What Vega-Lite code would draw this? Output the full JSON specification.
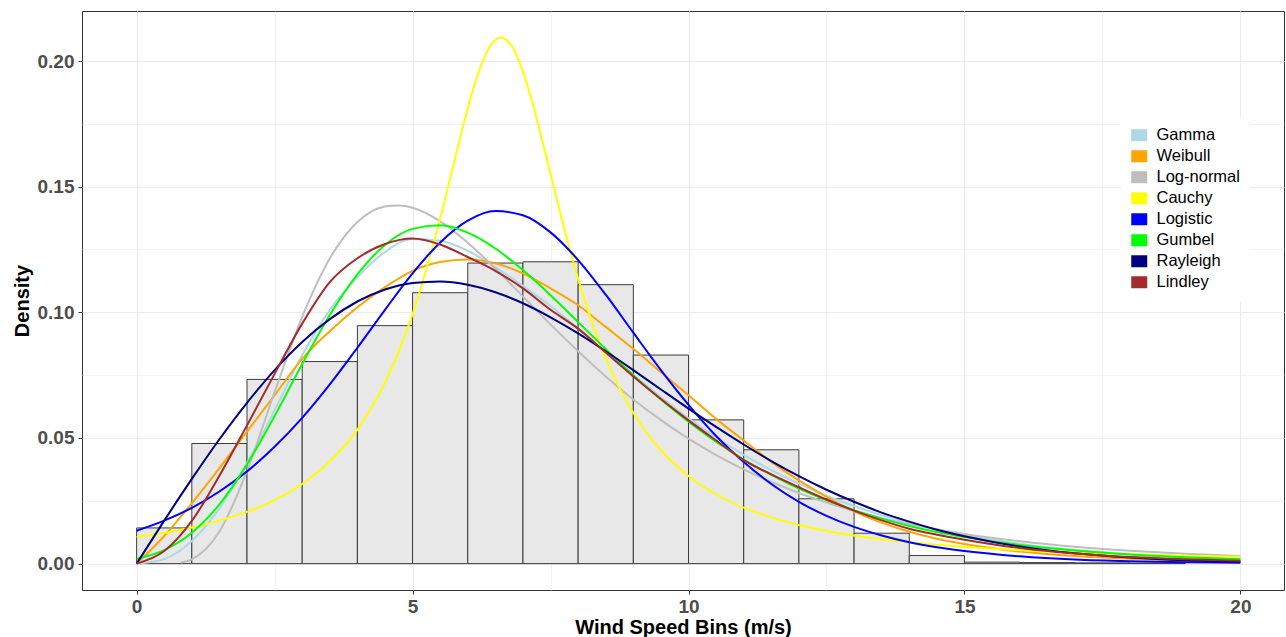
{
"$schema":"https://vega.github.io/schema/vega-lite/v6.json",
"width":1202,"height":579,
"autosize":{"type":"none"},
"padding":{"left":82,"top":11,"right":2,"bottom":47},
"background":"white",
"config":{"font":"Liberation Sans","view":{"stroke":"#333333","strokeWidth":1}},
"datasets":{
"bins":[
{"x":0,"x2":1,"density":0.0142},{"x":1,"x2":2,"density":0.0478},{"x":2,"x2":3,"density":0.0733},{"x":3,"x2":4,"density":0.0804},{"x":4,"x2":5,"density":0.0947},{"x":5,"x2":6,"density":0.1078},{"x":6,"x2":7,"density":0.1196},{"x":7,"x2":8,"density":0.1201},{"x":8,"x2":9,"density":0.111},{"x":9,"x2":10,"density":0.083},{"x":10,"x2":11,"density":0.0572},{"x":11,"x2":12,"density":0.0453},{"x":12,"x2":13,"density":0.0258},{"x":13,"x2":14,"density":0.0121},{"x":14,"x2":15,"density":0.0032},{"x":15,"x2":16,"density":0.0006},{"x":16,"x2":17,"density":0.0004},{"x":17,"x2":18,"density":0.0003},{"x":18,"x2":19,"density":0.0002}
],
"curves":[
{"dist":"Gamma","x":0,"density":0},{"dist":"Gamma","x":0.5,"density":0.0018},{"dist":"Gamma","x":1,"density":0.009},{"dist":"Gamma","x":1.5,"density":0.022},{"dist":"Gamma","x":2,"density":0.04},{"dist":"Gamma","x":2.5,"density":0.061},{"dist":"Gamma","x":3,"density":0.083},{"dist":"Gamma","x":3.5,"density":0.101},{"dist":"Gamma","x":4,"density":0.114},{"dist":"Gamma","x":4.5,"density":0.124},{"dist":"Gamma","x":5,"density":0.1292},{"dist":"Gamma","x":5.5,"density":0.1285},{"dist":"Gamma","x":6,"density":0.1245},{"dist":"Gamma","x":6.5,"density":0.118},{"dist":"Gamma","x":7,"density":0.1105},{"dist":"Gamma","x":7.5,"density":0.1025},{"dist":"Gamma","x":8,"density":0.0935},{"dist":"Gamma","x":8.5,"density":0.084},{"dist":"Gamma","x":9,"density":0.075},{"dist":"Gamma","x":9.5,"density":0.0662},{"dist":"Gamma","x":10,"density":0.0578},{"dist":"Gamma","x":10.5,"density":0.0502},{"dist":"Gamma","x":11,"density":0.0433},{"dist":"Gamma","x":11.5,"density":0.0372},{"dist":"Gamma","x":12,"density":0.0318},{"dist":"Gamma","x":12.5,"density":0.027},{"dist":"Gamma","x":13,"density":0.0229},{"dist":"Gamma","x":13.5,"density":0.0193},{"dist":"Gamma","x":14,"density":0.0162},{"dist":"Gamma","x":14.5,"density":0.0136},{"dist":"Gamma","x":15,"density":0.0114},{"dist":"Gamma","x":16,"density":0.0079},{"dist":"Gamma","x":17,"density":0.0054},{"dist":"Gamma","x":18,"density":0.0037},{"dist":"Gamma","x":19,"density":0.0025},{"dist":"Gamma","x":20,"density":0.0017},
{"dist":"Weibull","x":0,"density":0},{"dist":"Weibull","x":0.5,"density":0.011},{"dist":"Weibull","x":1,"density":0.024},{"dist":"Weibull","x":1.5,"density":0.038},{"dist":"Weibull","x":2,"density":0.0525},{"dist":"Weibull","x":2.5,"density":0.067},{"dist":"Weibull","x":3,"density":0.0815},{"dist":"Weibull","x":3.5,"density":0.0925},{"dist":"Weibull","x":4,"density":0.102},{"dist":"Weibull","x":4.5,"density":0.11},{"dist":"Weibull","x":5,"density":0.1165},{"dist":"Weibull","x":5.5,"density":0.12},{"dist":"Weibull","x":6,"density":0.121},{"dist":"Weibull","x":6.5,"density":0.1195},{"dist":"Weibull","x":7,"density":0.1155},{"dist":"Weibull","x":7.5,"density":0.1095},{"dist":"Weibull","x":8,"density":0.1028},{"dist":"Weibull","x":8.5,"density":0.0942},{"dist":"Weibull","x":9,"density":0.0855},{"dist":"Weibull","x":9.5,"density":0.0762},{"dist":"Weibull","x":10,"density":0.067},{"dist":"Weibull","x":10.5,"density":0.0576},{"dist":"Weibull","x":11,"density":0.049},{"dist":"Weibull","x":11.5,"density":0.0405},{"dist":"Weibull","x":12,"density":0.0331},{"dist":"Weibull","x":12.5,"density":0.0266},{"dist":"Weibull","x":13,"density":0.0208},{"dist":"Weibull","x":13.5,"density":0.0163},{"dist":"Weibull","x":14,"density":0.0127},{"dist":"Weibull","x":14.5,"density":0.0099},{"dist":"Weibull","x":15,"density":0.0078},{"dist":"Weibull","x":16,"density":0.0048},{"dist":"Weibull","x":17,"density":0.003},{"dist":"Weibull","x":18,"density":0.0019},{"dist":"Weibull","x":19,"density":0.0012},{"dist":"Weibull","x":20,"density":0.0008},
{"dist":"Log-normal","x":0.8,"density":0.0004},{"dist":"Log-normal","x":1,"density":0.0017},{"dist":"Log-normal","x":1.5,"density":0.0128},{"dist":"Log-normal","x":2,"density":0.0369},{"dist":"Log-normal","x":2.5,"density":0.0683},{"dist":"Log-normal","x":3,"density":0.0982},{"dist":"Log-normal","x":3.5,"density":0.1214},{"dist":"Log-normal","x":4,"density":0.1359},{"dist":"Log-normal","x":4.5,"density":0.1421},{"dist":"Log-normal","x":4.75,"density":0.1425},{"dist":"Log-normal","x":5,"density":0.1416},{"dist":"Log-normal","x":5.5,"density":0.1362},{"dist":"Log-normal","x":6,"density":0.1277},{"dist":"Log-normal","x":6.5,"density":0.1174},{"dist":"Log-normal","x":7,"density":0.1063},{"dist":"Log-normal","x":7.5,"density":0.0952},{"dist":"Log-normal","x":8,"density":0.0845},{"dist":"Log-normal","x":8.5,"density":0.0745},{"dist":"Log-normal","x":9,"density":0.0653},{"dist":"Log-normal","x":9.5,"density":0.0571},{"dist":"Log-normal","x":10,"density":0.0497},{"dist":"Log-normal","x":10.5,"density":0.0432},{"dist":"Log-normal","x":11,"density":0.0375},{"dist":"Log-normal","x":11.5,"density":0.0325},{"dist":"Log-normal","x":12,"density":0.0281},{"dist":"Log-normal","x":12.5,"density":0.0243},{"dist":"Log-normal","x":13,"density":0.021},{"dist":"Log-normal","x":13.5,"density":0.0182},{"dist":"Log-normal","x":14,"density":0.0158},{"dist":"Log-normal","x":14.5,"density":0.0137},{"dist":"Log-normal","x":15,"density":0.0118},{"dist":"Log-normal","x":16,"density":0.0089},{"dist":"Log-normal","x":17,"density":0.0067},{"dist":"Log-normal","x":18,"density":0.0051},{"dist":"Log-normal","x":19,"density":0.0039},{"dist":"Log-normal","x":20,"density":0.003},
{"dist":"Cauchy","x":0,"density":0.0106},{"dist":"Cauchy","x":0.5,"density":0.0122},{"dist":"Cauchy","x":1,"density":0.0144},{"dist":"Cauchy","x":1.5,"density":0.0171},{"dist":"Cauchy","x":2,"density":0.0206},{"dist":"Cauchy","x":2.5,"density":0.0253},{"dist":"Cauchy","x":3,"density":0.0317},{"dist":"Cauchy","x":3.5,"density":0.0406},{"dist":"Cauchy","x":4,"density":0.0533},{"dist":"Cauchy","x":4.5,"density":0.072},{"dist":"Cauchy","x":5,"density":0.0993},{"dist":"Cauchy","x":5.5,"density":0.1374},{"dist":"Cauchy","x":5.8,"density":0.164},{"dist":"Cauchy","x":6,"density":0.1812},{"dist":"Cauchy","x":6.2,"density":0.1958},{"dist":"Cauchy","x":6.4,"density":0.2058},{"dist":"Cauchy","x":6.6,"density":0.2094},{"dist":"Cauchy","x":6.8,"density":0.2058},{"dist":"Cauchy","x":7,"density":0.1958},{"dist":"Cauchy","x":7.2,"density":0.1812},{"dist":"Cauchy","x":7.4,"density":0.164},{"dist":"Cauchy","x":7.7,"density":0.1374},{"dist":"Cauchy","x":8,"density":0.1133},{"dist":"Cauchy","x":8.5,"density":0.0817},{"dist":"Cauchy","x":9,"density":0.06},{"dist":"Cauchy","x":9.5,"density":0.0451},{"dist":"Cauchy","x":10,"density":0.0349},{"dist":"Cauchy","x":10.5,"density":0.0276},{"dist":"Cauchy","x":11,"density":0.0223},{"dist":"Cauchy","x":11.5,"density":0.0184},{"dist":"Cauchy","x":12,"density":0.0154},{"dist":"Cauchy","x":12.5,"density":0.013},{"dist":"Cauchy","x":13,"density":0.0112},{"dist":"Cauchy","x":13.5,"density":0.0097},{"dist":"Cauchy","x":14,"density":0.0085},{"dist":"Cauchy","x":14.5,"density":0.0075},{"dist":"Cauchy","x":15,"density":0.0066},{"dist":"Cauchy","x":16,"density":0.0053},{"dist":"Cauchy","x":17,"density":0.0044},{"dist":"Cauchy","x":18,"density":0.0037},{"dist":"Cauchy","x":19,"density":0.0031},{"dist":"Cauchy","x":20,"density":0.0027},
{"dist":"Logistic","x":0,"density":0.0131},{"dist":"Logistic","x":0.5,"density":0.0171},{"dist":"Logistic","x":1,"density":0.0222},{"dist":"Logistic","x":1.5,"density":0.0287},{"dist":"Logistic","x":2,"density":0.0367},{"dist":"Logistic","x":2.5,"density":0.0465},{"dist":"Logistic","x":3,"density":0.058},{"dist":"Logistic","x":3.5,"density":0.0713},{"dist":"Logistic","x":4,"density":0.0859},{"dist":"Logistic","x":4.5,"density":0.101},{"dist":"Logistic","x":5,"density":0.1155},{"dist":"Logistic","x":5.5,"density":0.1278},{"dist":"Logistic","x":6,"density":0.1365},{"dist":"Logistic","x":6.5,"density":0.1403},{"dist":"Logistic","x":7,"density":0.1386},{"dist":"Logistic","x":7.5,"density":0.1318},{"dist":"Logistic","x":8,"density":0.1208},{"dist":"Logistic","x":8.5,"density":0.107},{"dist":"Logistic","x":9,"density":0.0919},{"dist":"Logistic","x":9.5,"density":0.077},{"dist":"Logistic","x":10,"density":0.0632},{"dist":"Logistic","x":10.5,"density":0.0508},{"dist":"Logistic","x":11,"density":0.0404},{"dist":"Logistic","x":11.5,"density":0.0317},{"dist":"Logistic","x":12,"density":0.0246},{"dist":"Logistic","x":12.5,"density":0.019},{"dist":"Logistic","x":13,"density":0.0146},{"dist":"Logistic","x":13.5,"density":0.0112},{"dist":"Logistic","x":14,"density":0.0085},{"dist":"Logistic","x":14.5,"density":0.0065},{"dist":"Logistic","x":15,"density":0.005},{"dist":"Logistic","x":16,"density":0.0029},{"dist":"Logistic","x":17,"density":0.0016},{"dist":"Logistic","x":18,"density":0.0009},{"dist":"Logistic","x":19,"density":0.0005},{"dist":"Logistic","x":20,"density":0.0003},
{"dist":"Gumbel","x":0,"density":0.0019},{"dist":"Gumbel","x":0.5,"density":0.0054},{"dist":"Gumbel","x":1,"density":0.0123},{"dist":"Gumbel","x":1.5,"density":0.0236},{"dist":"Gumbel","x":2,"density":0.0395},{"dist":"Gumbel","x":2.5,"density":0.0587},{"dist":"Gumbel","x":3,"density":0.0794},{"dist":"Gumbel","x":3.5,"density":0.0989},{"dist":"Gumbel","x":4,"density":0.1151},{"dist":"Gumbel","x":4.5,"density":0.1268},{"dist":"Gumbel","x":5,"density":0.1332},{"dist":"Gumbel","x":5.5,"density":0.1346},{"dist":"Gumbel","x":6,"density":0.1317},{"dist":"Gumbel","x":6.5,"density":0.1254},{"dist":"Gumbel","x":7,"density":0.1168},{"dist":"Gumbel","x":7.5,"density":0.1068},{"dist":"Gumbel","x":8,"density":0.0961},{"dist":"Gumbel","x":8.5,"density":0.0854},{"dist":"Gumbel","x":9,"density":0.075},{"dist":"Gumbel","x":9.5,"density":0.0653},{"dist":"Gumbel","x":10,"density":0.0565},{"dist":"Gumbel","x":10.5,"density":0.0485},{"dist":"Gumbel","x":11,"density":0.0414},{"dist":"Gumbel","x":11.5,"density":0.0353},{"dist":"Gumbel","x":12,"density":0.0299},{"dist":"Gumbel","x":12.5,"density":0.0253},{"dist":"Gumbel","x":13,"density":0.0213},{"dist":"Gumbel","x":13.5,"density":0.0179},{"dist":"Gumbel","x":14,"density":0.015},{"dist":"Gumbel","x":14.5,"density":0.0126},{"dist":"Gumbel","x":15,"density":0.0106},{"dist":"Gumbel","x":16,"density":0.0074},{"dist":"Gumbel","x":17,"density":0.0052},{"dist":"Gumbel","x":18,"density":0.0036},{"dist":"Gumbel","x":19,"density":0.0025},{"dist":"Gumbel","x":20,"density":0.0017},
{"dist":"Rayleigh","x":0,"density":0},{"dist":"Rayleigh","x":0.5,"density":0.0171},{"dist":"Rayleigh","x":1,"density":0.0337},{"dist":"Rayleigh","x":1.5,"density":0.0495},{"dist":"Rayleigh","x":2,"density":0.064},{"dist":"Rayleigh","x":2.5,"density":0.077},{"dist":"Rayleigh","x":3,"density":0.0882},{"dist":"Rayleigh","x":3.5,"density":0.0973},{"dist":"Rayleigh","x":4,"density":0.1043},{"dist":"Rayleigh","x":4.5,"density":0.1091},{"dist":"Rayleigh","x":5,"density":0.1117},{"dist":"Rayleigh","x":5.5,"density":0.1123},{"dist":"Rayleigh","x":6,"density":0.111},{"dist":"Rayleigh","x":6.5,"density":0.108},{"dist":"Rayleigh","x":7,"density":0.1036},{"dist":"Rayleigh","x":7.5,"density":0.098},{"dist":"Rayleigh","x":8,"density":0.0916},{"dist":"Rayleigh","x":8.5,"density":0.0845},{"dist":"Rayleigh","x":9,"density":0.077},{"dist":"Rayleigh","x":9.5,"density":0.0693},{"dist":"Rayleigh","x":10,"density":0.0617},{"dist":"Rayleigh","x":10.5,"density":0.0544},{"dist":"Rayleigh","x":11,"density":0.0474},{"dist":"Rayleigh","x":11.5,"density":0.0408},{"dist":"Rayleigh","x":12,"density":0.0348},{"dist":"Rayleigh","x":12.5,"density":0.0294},{"dist":"Rayleigh","x":13,"density":0.0246},{"dist":"Rayleigh","x":13.5,"density":0.0203},{"dist":"Rayleigh","x":14,"density":0.0167},{"dist":"Rayleigh","x":14.5,"density":0.0135},{"dist":"Rayleigh","x":15,"density":0.0109},{"dist":"Rayleigh","x":16,"density":0.0068},{"dist":"Rayleigh","x":17,"density":0.0041},{"dist":"Rayleigh","x":18,"density":0.0024},{"dist":"Rayleigh","x":19,"density":0.0013},{"dist":"Rayleigh","x":20,"density":0.0007},
{"dist":"Lindley","x":0,"density":0},{"dist":"Lindley","x":0.5,"density":0.005},{"dist":"Lindley","x":1,"density":0.017},{"dist":"Lindley","x":1.5,"density":0.035},{"dist":"Lindley","x":2,"density":0.055},{"dist":"Lindley","x":2.5,"density":0.0755},{"dist":"Lindley","x":3,"density":0.0955},{"dist":"Lindley","x":3.5,"density":0.112},{"dist":"Lindley","x":4,"density":0.1215},{"dist":"Lindley","x":4.5,"density":0.1272},{"dist":"Lindley","x":5,"density":0.1294},{"dist":"Lindley","x":5.5,"density":0.127},{"dist":"Lindley","x":6,"density":0.122},{"dist":"Lindley","x":6.5,"density":0.1165},{"dist":"Lindley","x":7,"density":0.1095},{"dist":"Lindley","x":7.5,"density":0.101},{"dist":"Lindley","x":8,"density":0.0935},{"dist":"Lindley","x":8.5,"density":0.084},{"dist":"Lindley","x":9,"density":0.0745},{"dist":"Lindley","x":9.5,"density":0.0655},{"dist":"Lindley","x":10,"density":0.057},{"dist":"Lindley","x":10.5,"density":0.049},{"dist":"Lindley","x":11,"density":0.0412},{"dist":"Lindley","x":11.5,"density":0.0355},{"dist":"Lindley","x":12,"density":0.0304},{"dist":"Lindley","x":12.5,"density":0.0255},{"dist":"Lindley","x":13,"density":0.0211},{"dist":"Lindley","x":13.5,"density":0.0172},{"dist":"Lindley","x":14,"density":0.0139},{"dist":"Lindley","x":14.5,"density":0.0115},{"dist":"Lindley","x":15,"density":0.0095},{"dist":"Lindley","x":16,"density":0.0062},{"dist":"Lindley","x":17,"density":0.004},{"dist":"Lindley","x":18,"density":0.0026},{"dist":"Lindley","x":19,"density":0.0017},{"dist":"Lindley","x":20,"density":0.0011}
]
},
"layer":[
{"data":{"name":"bins"},
 "mark":{"type":"rect","fill":"#E8E8E8","stroke":"#3C3C3C","strokeWidth":1},
 "encoding":{
  "x":{"field":"x","type":"quantitative","scale":{"domain":[-0.99,20.79],"nice":false,"zero":false},
   "axis":{"title":"Wind Speed Bins (m/s)","values":[0,2.5,5,7.5,10,12.5,15,17.5,20],"format":"~g",
    "labelExpr":"datum.value % 5 == 0 ? datum.label : ''",
    "domain":false,"tickSize":4,"tickWidth":1,
    "tickColor":{"condition":{"test":"datum.value % 5 != 0","value":"transparent"},"value":"#333333"},
    "grid":true,"gridColor":"#EBEBEB",
    "gridWidth":{"condition":{"test":"datum.value % 5 != 0","value":0.6},"value":1.1},
    "labelFont":"Liberation Sans","labelFontSize":19,"labelFontWeight":"bold","labelColor":"#4D4D4D","labelPadding":3,
    "titleFont":"Liberation Sans","titleFontSize":20,"titleFontWeight":"bold","titleColor":"#000000","titlePadding":1}},
  "x2":{"field":"x2"},
  "y":{"field":"density","type":"quantitative","scale":{"domain":[-0.0105,0.2199],"nice":false,"zero":false},
   "axis":{"title":"Density","values":[0,0.025,0.05,0.075,0.1,0.125,0.15,0.175,0.2],"format":".2f",
    "labelExpr":"round(datum.value*1000) % 50 == 0 ? datum.label : ''",
    "domain":false,"tickSize":4,"tickWidth":1,
    "tickColor":{"condition":{"test":"round(datum.value*1000) % 50 != 0","value":"transparent"},"value":"#333333"},
    "grid":true,"gridColor":"#EBEBEB",
    "gridWidth":{"condition":{"test":"round(datum.value*1000) % 50 != 0","value":0.6},"value":1.1},
    "labelFont":"Liberation Sans","labelFontSize":19,"labelFontWeight":"bold","labelColor":"#4D4D4D","labelPadding":4,
    "titleFont":"Liberation Sans","titleFontSize":20,"titleFontWeight":"bold","titleColor":"#000000","titlePadding":5}},
  "y2":{"datum":0}
 }},
{"data":{"name":"curves"},
 "mark":{"type":"line","strokeWidth":2,"interpolate":"monotone"},
 "encoding":{
  "x":{"field":"x","type":"quantitative"},
  "y":{"field":"density","type":"quantitative"},
  "color":{"field":"dist","type":"nominal",
   "scale":{"domain":["Gamma","Weibull","Log-normal","Cauchy","Logistic","Gumbel","Rayleigh","Lindley"],
            "range":["#ADD8E6","#FFA500","#BEBEBE","#FFFF00","#0000FF","#00FF00","#000080","#A52A2A"]},
   "legend":{"title":null,"orient":"none","legendX":1039,"legendY":106,"fillColor":"white","padding":10,
    "symbolType":"M-1,-0.75H1V0.75H-1Z","symbolSize":256,"symbolStrokeWidth":0,"symbolOpacity":1,
    "labelFont":"Liberation Sans","labelFontSize":16.5,"labelColor":"#000000","labelOffset":9,"rowPadding":4,
    "encode":{"symbols":{"update":{"fill":{"scale":"color","field":"value"},"stroke":{"value":"transparent"}}}}}}
 }}
]
}
